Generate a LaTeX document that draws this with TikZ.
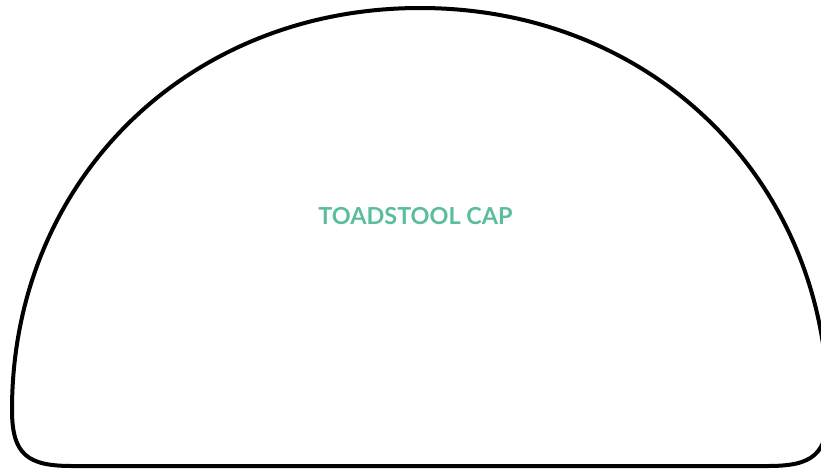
\documentclass[tikz,border=0pt]{standalone}
\usepackage{fontspec}
\usepackage{xcolor}
\usepackage{tikz}
\setmainfont{Lato}
\definecolor{CapLine}{HTML}{000000}
\definecolor{CapText}{HTML}{5BBE9B}

\begin{document}
\begin{tikzpicture}[
  x=1pt,y=-1pt,
  capshape/.style={draw=CapLine,line width=4pt,line join=round,fill=white},
  caplabel/.style={text=CapText,font=\fontsize{23.4}{28}\selectfont\bfseries}
]
\useasboundingbox (0,0) rectangle (821,472);
% cap outline
\draw[capshape] (72,466) -- (768,466)
  .. controls (812,466) and (828,455) .. (828,410)
  .. controls (828,181) and (653,8) .. (420,8)
  .. controls (187,8) and (12,181) .. (12,410)
  .. controls (12,455) and (28,466) .. (72,466) -- cycle;
\node[caplabel] (cap) at (415.5,216) {TOADSTOOL CAP};
\end{tikzpicture}
\end{document}
